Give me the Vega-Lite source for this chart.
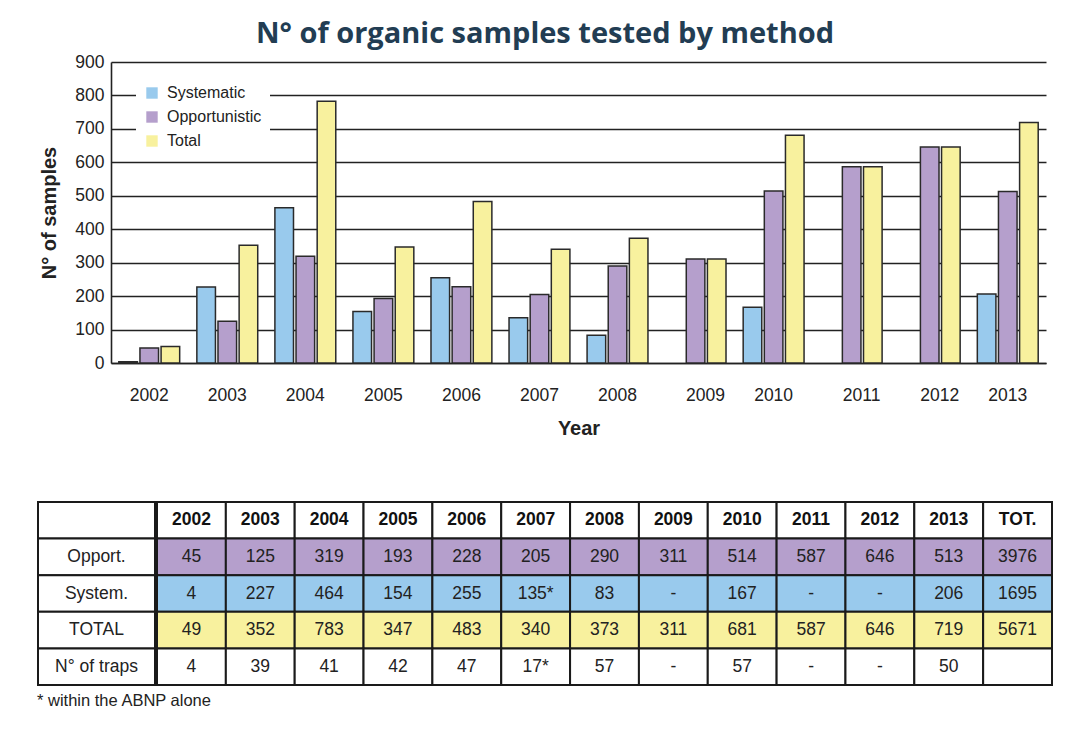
{
  "$schema": "https://vega.github.io/schema/vega-lite/v6.json",
  "padding": {"left": 37, "top": 20, "right": 0, "bottom": 0},
  "background": "white",
  "title": {"text": "N° of organic samples tested by method", "font": "Open Sans", "fontSize": 29, "fontWeight": "bold", "color": "#223d53", "anchor": "middle", "offset": 4},
  "datasets": {
    "bars": [
      {"year": "2002", "method": "Systematic", "n": 4},
      {"year": "2003", "method": "Systematic", "n": 227},
      {"year": "2004", "method": "Systematic", "n": 464},
      {"year": "2005", "method": "Systematic", "n": 154},
      {"year": "2006", "method": "Systematic", "n": 255},
      {"year": "2007", "method": "Systematic", "n": 135},
      {"year": "2008", "method": "Systematic", "n": 83},
      {"year": "2010", "method": "Systematic", "n": 167},
      {"year": "2013", "method": "Systematic", "n": 206},
      {"year": "2002", "method": "Opportunistic", "n": 45},
      {"year": "2003", "method": "Opportunistic", "n": 125},
      {"year": "2004", "method": "Opportunistic", "n": 319},
      {"year": "2005", "method": "Opportunistic", "n": 193},
      {"year": "2006", "method": "Opportunistic", "n": 228},
      {"year": "2007", "method": "Opportunistic", "n": 205},
      {"year": "2008", "method": "Opportunistic", "n": 290},
      {"year": "2009", "method": "Opportunistic", "n": 311},
      {"year": "2010", "method": "Opportunistic", "n": 514},
      {"year": "2011", "method": "Opportunistic", "n": 587},
      {"year": "2012", "method": "Opportunistic", "n": 646},
      {"year": "2013", "method": "Opportunistic", "n": 513},
      {"year": "2002", "method": "Total", "n": 49},
      {"year": "2003", "method": "Total", "n": 352},
      {"year": "2004", "method": "Total", "n": 783},
      {"year": "2005", "method": "Total", "n": 347},
      {"year": "2006", "method": "Total", "n": 483},
      {"year": "2007", "method": "Total", "n": 340},
      {"year": "2008", "method": "Total", "n": 373},
      {"year": "2009", "method": "Total", "n": 311},
      {"year": "2010", "method": "Total", "n": 681},
      {"year": "2011", "method": "Total", "n": 587},
      {"year": "2012", "method": "Total", "n": 646},
      {"year": "2013", "method": "Total", "n": 719}
    ],
    "table": [
      {"r": "hdr", "c": "label", "t": ""},
      {"r": "Opport.", "c": "label", "t": "Opport."},
      {"r": "System.", "c": "label", "t": "System."},
      {"r": "TOTAL", "c": "label", "t": "TOTAL"},
      {"r": "N° of traps", "c": "label", "t": "N° of traps"},
      {"r": "hdr", "c": "2002", "t": "2002"},
      {"r": "hdr", "c": "2003", "t": "2003"},
      {"r": "hdr", "c": "2004", "t": "2004"},
      {"r": "hdr", "c": "2005", "t": "2005"},
      {"r": "hdr", "c": "2006", "t": "2006"},
      {"r": "hdr", "c": "2007", "t": "2007"},
      {"r": "hdr", "c": "2008", "t": "2008"},
      {"r": "hdr", "c": "2009", "t": "2009"},
      {"r": "hdr", "c": "2010", "t": "2010"},
      {"r": "hdr", "c": "2011", "t": "2011"},
      {"r": "hdr", "c": "2012", "t": "2012"},
      {"r": "hdr", "c": "2013", "t": "2013"},
      {"r": "hdr", "c": "TOT.", "t": "TOT."},
      {"r": "Opport.", "c": "2002", "t": "45"},
      {"r": "Opport.", "c": "2003", "t": "125"},
      {"r": "Opport.", "c": "2004", "t": "319"},
      {"r": "Opport.", "c": "2005", "t": "193"},
      {"r": "Opport.", "c": "2006", "t": "228"},
      {"r": "Opport.", "c": "2007", "t": "205"},
      {"r": "Opport.", "c": "2008", "t": "290"},
      {"r": "Opport.", "c": "2009", "t": "311"},
      {"r": "Opport.", "c": "2010", "t": "514"},
      {"r": "Opport.", "c": "2011", "t": "587"},
      {"r": "Opport.", "c": "2012", "t": "646"},
      {"r": "Opport.", "c": "2013", "t": "513"},
      {"r": "Opport.", "c": "TOT.", "t": "3976"},
      {"r": "System.", "c": "2002", "t": "4"},
      {"r": "System.", "c": "2003", "t": "227"},
      {"r": "System.", "c": "2004", "t": "464"},
      {"r": "System.", "c": "2005", "t": "154"},
      {"r": "System.", "c": "2006", "t": "255"},
      {"r": "System.", "c": "2007", "t": "135*"},
      {"r": "System.", "c": "2008", "t": "83"},
      {"r": "System.", "c": "2009", "t": "-"},
      {"r": "System.", "c": "2010", "t": "167"},
      {"r": "System.", "c": "2011", "t": "-"},
      {"r": "System.", "c": "2012", "t": "-"},
      {"r": "System.", "c": "2013", "t": "206"},
      {"r": "System.", "c": "TOT.", "t": "1695"},
      {"r": "TOTAL", "c": "2002", "t": "49"},
      {"r": "TOTAL", "c": "2003", "t": "352"},
      {"r": "TOTAL", "c": "2004", "t": "783"},
      {"r": "TOTAL", "c": "2005", "t": "347"},
      {"r": "TOTAL", "c": "2006", "t": "483"},
      {"r": "TOTAL", "c": "2007", "t": "340"},
      {"r": "TOTAL", "c": "2008", "t": "373"},
      {"r": "TOTAL", "c": "2009", "t": "311"},
      {"r": "TOTAL", "c": "2010", "t": "681"},
      {"r": "TOTAL", "c": "2011", "t": "587"},
      {"r": "TOTAL", "c": "2012", "t": "646"},
      {"r": "TOTAL", "c": "2013", "t": "719"},
      {"r": "TOTAL", "c": "TOT.", "t": "5671"},
      {"r": "N° of traps", "c": "2002", "t": "4"},
      {"r": "N° of traps", "c": "2003", "t": "39"},
      {"r": "N° of traps", "c": "2004", "t": "41"},
      {"r": "N° of traps", "c": "2005", "t": "42"},
      {"r": "N° of traps", "c": "2006", "t": "47"},
      {"r": "N° of traps", "c": "2007", "t": "17*"},
      {"r": "N° of traps", "c": "2008", "t": "57"},
      {"r": "N° of traps", "c": "2009", "t": "-"},
      {"r": "N° of traps", "c": "2010", "t": "57"},
      {"r": "N° of traps", "c": "2011", "t": "-"},
      {"r": "N° of traps", "c": "2012", "t": "-"},
      {"r": "N° of traps", "c": "2013", "t": "50"},
      {"r": "N° of traps", "c": "TOT.", "t": ""}
    ]
  },
  "columns": 1,
  "align": "none",
  "spacing": 62,
  "concat": [
    {
      "spacing": 0,
      "hconcat": [
        {
          "width": 1,
          "height": 1,
          "data": {"values": []},
          "mark": {"type": "point", "opacity": 0}
        },
        {
          "width": 935,
          "height": 301,
          "data": {"name": "bars"},
          "mark": {"type": "bar", "stroke": "#2a2a2a", "strokeWidth": 1.5},
          "encoding": {
            "x": {
              "field": "year", "type": "nominal", "title": "Year",
              "scale": {"paddingInner": 0.22, "paddingOuter": 0.1},
              "axis": {
                "labelAngle": 0, "ticks": false, "tickSize": 0, "labelPadding": 23,
                "labelOffset": {"condition": {"test": "indexof(['2009','2011','2012'], datum.value) >= 0", "value": 10}, "value": 0},
                "labelFontSize": 17.5, "labelColor": "#222", "domain": true, "domainColor": "#222", "domainWidth": 1.6,
                "titleFontSize": 20, "titleFontWeight": "bold", "titleColor": "#222", "titlePadding": 15
              }
            },
            "xOffset": {"field": "method", "type": "nominal", "scale": {"domain": ["Systematic", "Opportunistic", "Total"], "paddingInner": 0.12}},
            "y": {
              "field": "n", "type": "quantitative", "title": "N° of samples",
              "scale": {"domain": [0, 900], "nice": false},
              "axis": {
                "values": [0, 100, 200, 300, 400, 500, 600, 700, 800, 900],
                "grid": true, "gridColor": "#222", "gridWidth": 1.6, "gridOpacity": 1,
                "domain": true, "domainColor": "#222", "domainWidth": 1.6,
                "ticks": false, "tickSize": 0, "labelPadding": 7, "labelFontSize": 17.5, "labelColor": "#222",
                "titleFontSize": 20, "titleFontWeight": "bold", "titleColor": "#222", "titlePadding": 15
              }
            },
            "color": {
              "field": "method", "type": "nominal",
              "scale": {"domain": ["Systematic", "Opportunistic", "Total"], "range": ["#99caed", "#b59fcc", "#f8f19e"]},
              "legend": {
                "orient": "none", "legendX": 98, "legendY": 15, "title": null, "fillColor": "white", "padding": 8,
                "labelFontSize": 16, "labelColor": "#222", "symbolType": "square", "symbolSize": 130,
                "symbolStrokeWidth": 0, "rowPadding": 8, "labelOffset": 7
              }
            }
          }
        }
      ]
    },
    {
      "spacing": 0,
      "title": {"text": "* within the ABNP alone", "orient": "bottom", "anchor": "start", "fontSize": 16.5, "fontWeight": "normal", "font": "Liberation Sans", "color": "#222", "offset": 7},
      "hconcat": [
        {
          "width": 117,
          "height": 183,
          "data": {"name": "table"},
          "transform": [{"filter": "datum.c == 'label'"}],
          "encoding": {
            "y": {"field": "r", "type": "nominal", "scale": {"domain": ["hdr", "Opport.", "System.", "TOTAL", "N° of traps"], "paddingInner": 0, "paddingOuter": 0}, "axis": null}
          },
          "layer": [
            {"mark": {"type": "rect", "fill": "white", "stroke": "#1a1a1a", "strokeWidth": 2}, "encoding": {}},
            {"mark": {"type": "text", "fontSize": 17.5, "color": "#222", "font": "Liberation Sans"}, "encoding": {"text": {"field": "t"}}}
          ]
        },
        {
          "width": 895,
          "height": 183,
          "data": {"name": "table"},
          "transform": [{"filter": "datum.c != 'label'"}],
          "encoding": {
            "x": {"field": "c", "type": "nominal", "scale": {"domain": ["2002", "2003", "2004", "2005", "2006", "2007", "2008", "2009", "2010", "2011", "2012", "2013", "TOT."], "paddingInner": 0, "paddingOuter": 0}, "axis": null},
            "y": {"field": "r", "type": "nominal", "scale": {"domain": ["hdr", "Opport.", "System.", "TOTAL", "N° of traps"], "paddingInner": 0, "paddingOuter": 0}, "axis": null}
          },
          "layer": [
            {
              "mark": {"type": "rect", "stroke": "#1a1a1a", "strokeWidth": 2},
              "encoding": {
                "fill": {"field": "r", "type": "nominal", "scale": {"domain": ["hdr", "Opport.", "System.", "TOTAL", "N° of traps"], "range": ["#ffffff", "#b59fcc", "#99caed", "#f8f19e", "#ffffff"]}, "legend": null}
              }
            },
            {
              "transform": [{"filter": "datum.r == 'hdr'"}],
              "mark": {"type": "text", "fontSize": 17.5, "fontWeight": "bold", "color": "#111", "font": "Liberation Sans"},
              "encoding": {"text": {"field": "t"}}
            },
            {
              "transform": [{"filter": "datum.r != 'hdr'"}],
              "mark": {"type": "text", "fontSize": 17.5, "color": "#222", "font": "Liberation Sans"},
              "encoding": {"text": {"field": "t"}}
            }
          ]
        }
      ]
    }
  ],
  "config": {
    "view": {"stroke": null},
    "font": "Liberation Sans",
    "axis": {"labelFont": "Liberation Sans", "titleFont": "Liberation Sans"},
    "legend": {"labelFont": "Liberation Sans"}
  }
}
